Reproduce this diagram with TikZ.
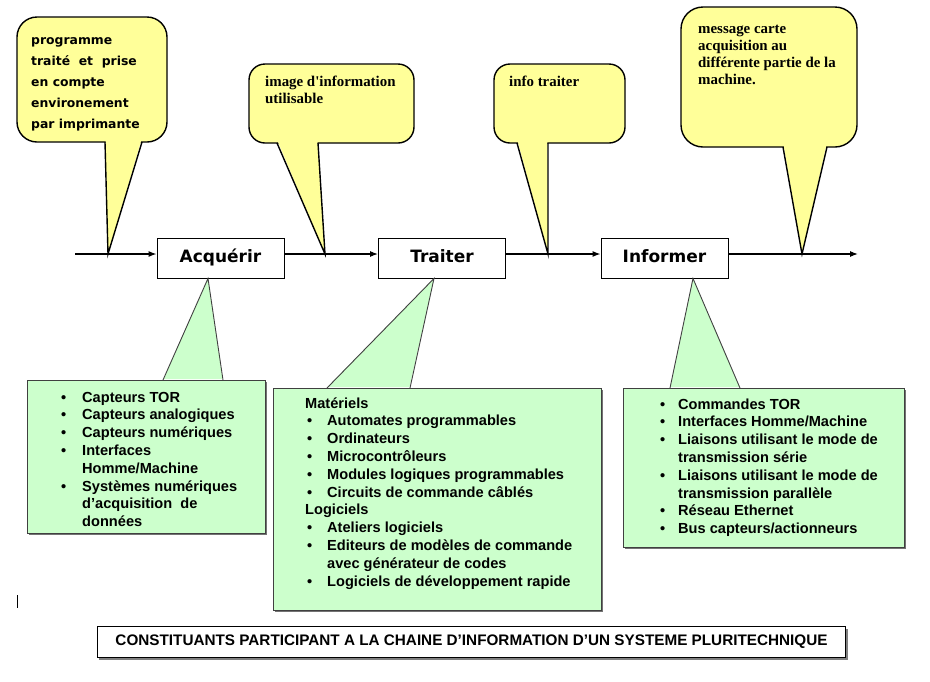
\documentclass[tikz,border=0pt]{standalone}
\usepackage{fontspec}
\setmainfont{Liberation Serif}
\newfontfamily\arialf{Liberation Sans}
\newfontfamily\comicf{DejaVu Sans}
\usetikzlibrary{arrows.meta}
\definecolor{yell}{HTML}{FFFF99}
\definecolor{grn}{HTML}{CCFFCC}
\tikzset{
  ycall/.style={fill=yell, draw=black, line width=1.4pt},
  ytail/.style={draw=black, line width=1.4pt, line join=miter},
  gcall/.style={fill=grn, draw=black!75, line width=0.9pt},
  gtail/.style={draw=black!75, line width=0.9pt, line join=miter},
  gshadow/.style={fill=black!55},
  blk/.style={draw=black, line width=0.9pt, fill=white, minimum width=127pt, minimum height=40pt, inner sep=0pt, text height=12.5pt, text depth=3.5pt, font=\comicf\bfseries\fontsize{17}{20}\selectfont},
  flow/.style={line width=1.2pt, -{Latex[length=8pt,width=6pt]}},
  ctext/.style={anchor=base west, inner sep=0pt, font=\comicf\bfseries\fontsize{12.4}{21}\selectfont},
  ttext/.style={anchor=base west, inner sep=0pt, font=\bfseries\fontsize{14.9}{17}\selectfont},
  gtext/.style={anchor=base west, inner sep=0pt, font=\arialf\bfseries\fontsize{14.6}{17.8}\selectfont},
}
\begin{document}
\begin{tikzpicture}[x=1pt,y=-1pt]
\useasboundingbox (0,0) rectangle (930,681);

% tips on the main line
\coordinate (in) at (75,254);
\coordinate (out) at (858,254);
\coordinate (t1) at (108,254);
\coordinate (t2) at (325,254);
\coordinate (t3) at (548,254);
\coordinate (t4) at (802,254);

% ---------- yellow callouts ----------
\filldraw[ycall, rounded corners=20pt] (17,17) rectangle (167,142);
\fill[yell] (105.6,140) -- (141.4,140) -- (t1) -- cycle;
\draw[ytail] (105,142) -- (t1) -- (142,142);
\node[ctext] (c1) at (31,44) {\begin{tabular}[t]{@{}l@{}}programme\\traité\ \ et\ \ prise\\en compte\\environement\\par imprimante\end{tabular}};

\filldraw[ycall, rounded corners=16pt] (249,64) rectangle (414,143);
\fill[yell] (277.6,141) -- (317.4,141) -- (t2) -- cycle;
\draw[ytail] (277,143) -- (t2) -- (318,143);
\node[ttext] (c2) at (265,86) {\begin{tabular}[t]{@{}l@{}}image d\textquotesingle information\\utilisable\end{tabular}};

\filldraw[ycall, rounded corners=16pt] (494,64) rectangle (625,143);
\fill[yell] (517.6,141) -- (547.4,141) -- (t3) -- cycle;
\draw[ytail] (517,143) -- (t3) -- (548,143);
\node[ttext] (c3) at (509,86) {info traiter};

\filldraw[ycall, rounded corners=22pt] (681,7) rectangle (857,147);
\fill[yell] (783.6,145) -- (826.4,145) -- (t4) -- cycle;
\draw[ytail] (783,147) -- (t4) -- (827,147);
\node[ttext] (c4) at (698,33) {\begin{tabular}[t]{@{}l@{}}message carte\\acquisition au\\différente partie de la\\machine.\end{tabular}};

% ---------- blocks ----------
\node[blk] (acq) at (220.5,258) {Acquérir};
\node[blk] (tra) at (442,258) {Traiter};
\node[blk] (inf) at (664.5,258) {Informer};

\draw[flow] (in) -- (in -| acq.west);
\draw[flow] (acq.east |- in) -- (tra.west |- in);
\draw[flow] (tra.east |- in) -- (inf.west |- in);
\draw[flow] (inf.east |- in) -- (out);

% ---------- green callouts ----------
\fill[gshadow] (29,382) rectangle (267,535);
\filldraw[gcall] (27,380) rectangle (265,533);
\fill[grn] (163.5,379) -- (222.5,379) -- (acq.south -| 208,0) -- cycle;
\draw[gtail] (163,380) -- (acq.south -| 208,0) -- (223,380);
\node[gtext] (g1) at (61,402) {\begin{tabular}[t]{@{}p{21pt}@{}l@{}}
\textbullet & Capteurs TOR\\
\textbullet & Capteurs analogiques\\
\textbullet & Capteurs numériques\\
\textbullet & Interfaces\\
 & Homme/Machine\\
\textbullet & Systèmes numériques\\
 & d’acquisition\ \ de\\
 & données
\end{tabular}};

\fill[gshadow] (275,390) rectangle (603,612);
\filldraw[gcall] (273,388) rectangle (601,610);
\fill[grn] (327.5,387) -- (409.5,387) -- (tra.south -| 434,0) -- cycle;
\draw[gtail] (327,388) -- (tra.south -| 434,0) -- (410,388);
\node[gtext] (g2) at (305,408) {\begin{tabular}[t]{@{}p{22pt}@{}l@{}}
\multicolumn{2}{@{}l@{}}{Matériels}\\
\hspace{2pt}\textbullet & Automates programmables\\
\hspace{2pt}\textbullet & Ordinateurs\\
\hspace{2pt}\textbullet & Microcontrôleurs\\
\hspace{2pt}\textbullet & Modules logiques programmables\\
\hspace{2pt}\textbullet & Circuits de commande câblés\\
\multicolumn{2}{@{}l@{}}{Logiciels}\\
\hspace{2pt}\textbullet & Ateliers logiciels\\
\hspace{2pt}\textbullet & Editeurs de modèles de commande\\
 & avec générateur de codes\\
\hspace{2pt}\textbullet & Logiciels de développement rapide
\end{tabular}};

\fill[gshadow] (625,390) rectangle (906,549);
\filldraw[gcall] (623,388) rectangle (904,547);
\fill[grn] (670.5,387) -- (739.5,387) -- (inf.south -| 693,0) -- cycle;
\draw[gtail] (670,388) -- (inf.south -| 693,0) -- (740,388);
\node[gtext] (g3) at (658,409) {\begin{tabular}[t]{@{}p{20pt}@{}l@{}}
\hspace{2pt}\textbullet & Commandes TOR\\
\hspace{2pt}\textbullet & Interfaces Homme/Machine\\
\hspace{2pt}\textbullet & Liaisons utilisant le mode de\\
 & transmission série\\
\hspace{2pt}\textbullet & Liaisons utilisant le mode de\\
 & transmission parallèle\\
\hspace{2pt}\textbullet & Réseau Ethernet\\
\hspace{2pt}\textbullet & Bus capteurs/actionneurs
\end{tabular}};

% ---------- title ----------
\fill[black!50] (99,628.5) rectangle (847.5,659.5);
\node[draw=black, line width=1.6pt, fill=white, minimum width=748pt, minimum height=31pt, inner sep=0pt,
      font=\arialf\bfseries\fontsize{16}{19}\selectfont] (title) at (471.5,642)
  {\resizebox{712pt}{!}{CONSTITUANTS PARTICIPANT A LA CHAINE D’INFORMATION D’UN SYSTEME PLURITECHNIQUE}};

% text cursor mark
\draw[line width=1pt] (17.5,595) -- (17.5,608);
\end{tikzpicture}
\end{document}
